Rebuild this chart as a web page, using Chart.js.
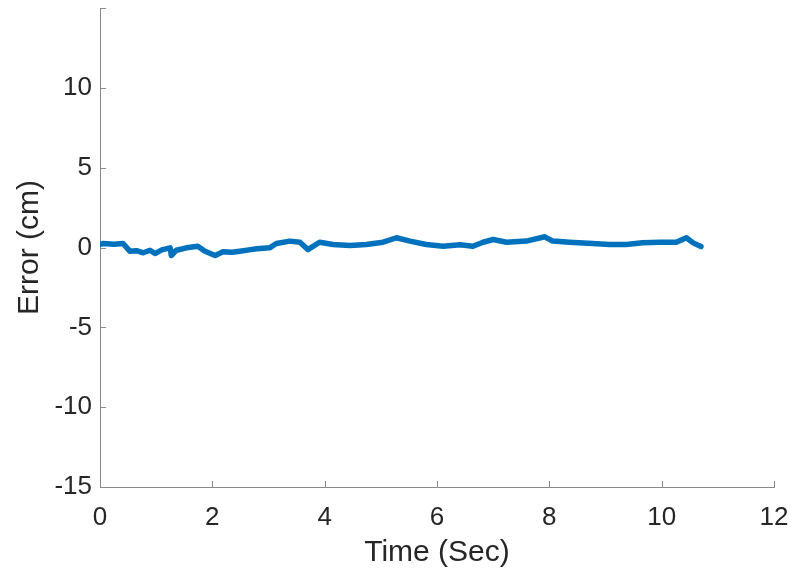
<!DOCTYPE html>
<html>
<head>
<meta charset="utf-8">
<script src="https://cdn.jsdelivr.net/npm/chart.js@4"></script>
<style>
  body { margin: 0; background: #fff; }
  canvas { display: block; }
</style>
</head>
<body>
<canvas id="chart" width="795" height="581"></canvas>
<script>
// time (sec) and tracking error (cm)
const timeSec = [0, 0.06, 0.25, 0.41, 0.53, 0.65, 0.77, 0.89, 0.98, 1.1, 1.25, 1.27, 1.36, 1.54,
  1.74, 1.87, 2.05, 2.19, 2.35, 2.49, 2.65, 2.79, 3.02, 3.14, 3.38, 3.56, 3.7, 3.91, 4.15,
  4.45, 4.74, 5.04, 5.28, 5.52, 5.81, 6.11, 6.41, 6.64, 6.82, 7.0, 7.24, 7.59, 7.92, 8.06,
  8.36, 8.77, 9.07, 9.37, 9.66, 9.96, 10.26, 10.44, 10.56, 10.7];
const errorCm = [0.2, 0.25, 0.2, 0.25, -0.23, -0.2, -0.33, -0.17, -0.38, -0.15, -0.02, -0.5, -0.17, -0.02,
  0.08, -0.23, -0.5, -0.27, -0.3, -0.23, -0.15, -0.08, -0.02, 0.25, 0.4, 0.33, -0.13, 0.33, 0.19,
  0.13, 0.19, 0.33, 0.61, 0.4, 0.19, 0.08, 0.17, 0.08, 0.33, 0.5, 0.33, 0.4, 0.67, 0.4,
  0.33, 0.25, 0.19, 0.19, 0.3, 0.33, 0.33, 0.61, 0.29, 0.06];
const xTicks = [0, 2, 4, 6, 8, 10, 12];
const yTicks = [-15, -10, -5, 0, 5, 10, 15];
const yTickLabels = ["-15", "-10", "-5", "0", "5", "10", ""];

const axisColor = "#8a8a8a";
const textColor = "#262626";
const fontFamily = "'Liberation Sans', Arial, sans-serif";

// MATLAB style: small tick marks pointing into the plot
const innerTicks = {
  id: "innerTicks",
  afterDraw(chart) {
    const { ctx, chartArea, scales } = chart;
    ctx.save();
    ctx.strokeStyle = axisColor;
    ctx.lineWidth = 1;
    ctx.beginPath();
    scales.x.ticks.forEach((t) => {
      const px = Math.round(scales.x.getPixelForValue(t.value)) + 0.5;
      ctx.moveTo(px, chartArea.bottom);
      ctx.lineTo(px, chartArea.bottom - 6);
    });
    scales.y.ticks.forEach((t) => {
      const py = Math.round(scales.y.getPixelForValue(t.value)) + 0.5;
      ctx.moveTo(chartArea.left, py);
      ctx.lineTo(chartArea.left + 6, py);
    });
    ctx.stroke();
    ctx.restore();
  },
};

new Chart(document.getElementById("chart"), {
  type: "line",
  data: {
    datasets: [
      {
        data: timeSec.map((t, i) => ({ x: t, y: errorCm[i] })),
        borderColor: "#0072BD",
        borderWidth: 5.5,
        pointRadius: 0,
        tension: 0,
        borderJoinStyle: "round",
        borderCapStyle: "round",
      },
    ],
  },
  options: {
    responsive: false,
    animation: false,
    layout: { padding: { top: 8, right: 21, left: 0, bottom: 0 } },
    plugins: { legend: { display: false }, tooltip: { enabled: false } },
    scales: {
      x: {
        type: "linear",
        min: 0,
        max: 12,
        afterBuildTicks: (s) => { s.ticks = xTicks.map((v) => ({ value: v })); },
        afterFit: (s) => { s.height = 94; s.paddingLeft = 0; s.paddingRight = 0; },
        grid: { drawOnChartArea: false, drawTicks: false },
        border: { color: axisColor, width: 1 },
        ticks: { color: textColor, padding: 15, font: { family: fontFamily, size: 26 } },
        title: {
          display: true,
          text: "Time (Sec)",
          color: textColor,
          font: { family: fontFamily, size: 30 },
          padding: { top: 0, bottom: 10 },
        },
      },
      y: {
        min: -15,
        max: 15,
        afterBuildTicks: (s) => { s.ticks = yTicks.map((v) => ({ value: v })); },
        afterFit: (s) => { s.width = 100; s.paddingTop = 0; s.paddingBottom = 0; },
        grid: { drawOnChartArea: false, drawTicks: false },
        border: { color: axisColor, width: 1 },
        ticks: {
          color: textColor,
          padding: 8,
          font: { family: fontFamily, size: 26 },
          callback: (v) => yTickLabels[yTicks.indexOf(v)],
        },
        title: {
          display: true,
          text: "Error (cm)",
          color: textColor,
          font: { family: fontFamily, size: 30 },
          padding: { top: 12, bottom: 0 },
        },
      },
    },
  },
  plugins: [innerTicks],
});
</script>
</body>
</html>
